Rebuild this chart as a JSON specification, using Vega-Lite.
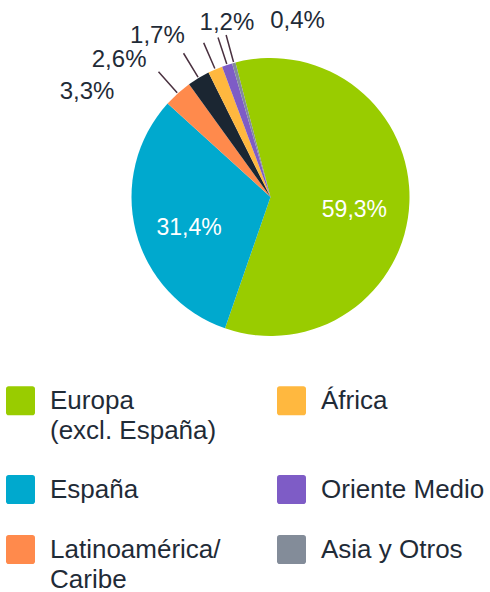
{
  "$schema": "https://vega.github.io/schema/vega-lite/v6.json",
  "autosize": "none",
  "width": 439,
  "height": 394,
  "padding": {"left": 51, "top": 0, "right": 0, "bottom": 198},
  "background": "white",
  "config": {"view": {"stroke": null}, "font": "Liberation Sans", "style": {"guide-label": {"lineHeight": 30}}},
  "data": {"values": [
    {"cat": "Europa (excl. España)", "value": 59.3, "order": 1, "label": "59,3%"},
    {"cat": "España", "value": 31.4, "order": 2, "label": "31,4%"},
    {"cat": "Latinoamérica/Caribe", "value": 3.3, "order": 3, "label": "3,3%"},
    {"cat": "Norteamérica", "value": 2.6, "order": 4, "label": "2,6%"},
    {"cat": "África", "value": 1.7, "order": 5, "label": "1,7%"},
    {"cat": "Oriente Medio", "value": 1.2, "order": 6, "label": "1,2%"},
    {"cat": "Asia y Otros", "value": 0.4, "order": 7, "label": "0,4%"}
  ]},
  "resolve": {"scale": {"theta": "independent"}},
  "layer": [
    {
      "mark": {"type": "arc", "radius": 139, "stroke": null},
      "encoding": {
        "theta": {"field": "value", "type": "quantitative", "stack": true, "scale": {"range": [-0.2548, 6.0284]}},
        "order": {"field": "order", "type": "quantitative"},
        "color": {
          "field": "cat", "type": "nominal",
          "scale": {
            "domain": ["Europa (excl. España)", "España", "Latinoamérica/Caribe", "Norteamérica", "África", "Oriente Medio", "Asia y Otros"],
            "range": ["#99CC00", "#00A9CE", "#FF8A4C", "#1B2632", "#FFB83F", "#7E5CC6", "#838C99"]
          },
          "legend": {
            "orient": "none",
            "legendX": -45,
            "legendY": 386,
            "title": null,
            "columns": 2,
            "values": ["Europa (excl. España)", "España", "Latinoamérica/Caribe", "África", "Oriente Medio", "Asia y Otros"],
            "symbolType": "M-0.82,-1H0.82A0.18,0.18 0 0 1 1,-0.82V0.82A0.18,0.18 0 0 1 0.82,1H-0.82A0.18,0.18 0 0 1 -1,0.82V-0.82A0.18,0.18 0 0 1 -0.82,-1Z",
            "symbolSize": 841,
            "symbolStrokeWidth": 0,
            "symbolOpacity": 1,
            "labelFontSize": 26,
            "labelFont": "Liberation Sans",
            "labelColor": "#1F2B37",
            "labelOffset": 15,
            "labelLimit": 300,
            "columnPadding": 56,
            "rowPadding": 31,
            "labelExpr": "datum.label == 'Europa (excl. España)' ? ['Europa', '(excl. España)'] : datum.label == 'Latinoamérica/Caribe' ? ['Latinoamérica/', 'Caribe'] : datum.label == 'África' || datum.label == 'Asia y Otros' ? [datum.label, ' '] : datum.label"
          }
        }
      }
    },
    {
      "mark": {"type": "text", "radius": 84, "dy": 10, "fontSize": 23, "color": "white", "font": "Liberation Sans"},
      "encoding": {
        "theta": {"field": "value", "type": "quantitative", "stack": true, "scale": {"range": [-0.2548, 6.0284]}},
        "order": {"field": "order", "type": "quantitative"},
        "text": {"field": "label"},
        "opacity": {"condition": {"test": "datum.order <= 2", "value": 1}, "value": 0}
      }
    },
    {
      "mark": {"type": "arc", "radius": 168, "radius2": 140, "padAngle": 0.6, "filled": false, "stroke": "#4A3140", "strokeWidth": 1.5, "fill": null},
      "encoding": {
        "theta": {"field": "value", "type": "quantitative", "stack": true, "scale": {"range": [-0.2548, 6.0284]}},
        "order": {"field": "order", "type": "quantitative"},
        "strokeOpacity": {"condition": {"test": "datum.order <= 2", "value": 0}, "value": 1}
      }
    },
    {
      "transform": [{"filter": "datum.order >= 3 && datum.order <= 5"}],
      "mark": {"type": "text", "fontSize": 24, "color": "#1F2B37", "font": "Liberation Sans", "align": "right"},
      "encoding": {
        "theta": {"field": "order", "type": "quantitative", "scale": {"domain": [3, 7], "range": [5.3041, 6.2814], "zero": false}},
        "radius": {"field": "order", "type": "quantitative", "scale": {"type": "linear", "domain": [3, 7], "range": [188, 176], "zero": false}},
        "text": {"field": "label"}
      }
    },
    {
      "transform": [{"filter": "datum.order == 6"}],
      "mark": {"type": "text", "fontSize": 24, "color": "#1F2B37", "font": "Liberation Sans", "align": "center"},
      "encoding": {
        "theta": {"field": "order", "type": "quantitative", "scale": {"domain": [3, 7], "range": [5.3041, 6.2814], "zero": false}},
        "radius": {"field": "order", "type": "quantitative", "scale": {"type": "linear", "domain": [3, 7], "range": [188, 176], "zero": false}},
        "text": {"field": "label"}
      }
    },
    {
      "transform": [{"filter": "datum.order == 7"}],
      "mark": {"type": "text", "fontSize": 24, "color": "#1F2B37", "font": "Liberation Sans", "align": "left"},
      "encoding": {
        "theta": {"field": "order", "type": "quantitative", "scale": {"domain": [3, 7], "range": [5.3041, 6.2814], "zero": false}},
        "radius": {"field": "order", "type": "quantitative", "scale": {"type": "linear", "domain": [3, 7], "range": [188, 176], "zero": false}},
        "text": {"field": "label"}
      }
    }
  ]
}
